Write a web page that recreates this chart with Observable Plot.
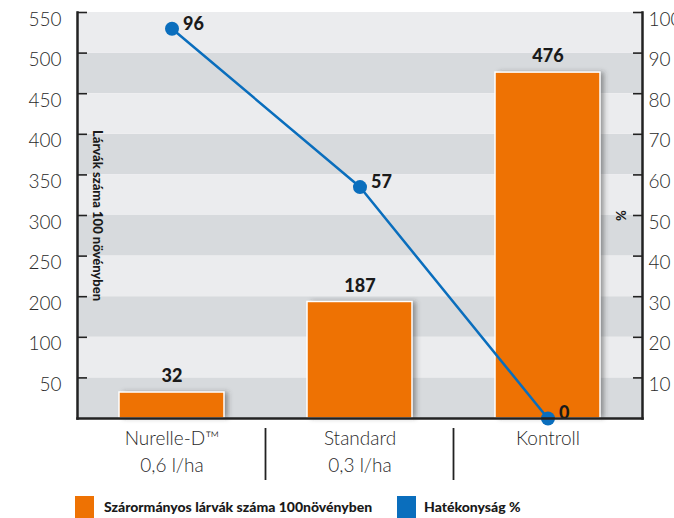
<!DOCTYPE html>
<html><head><meta charset="utf-8">
<script src="https://cdn.jsdelivr.net/npm/d3@7"></script>
<script src="https://cdn.jsdelivr.net/npm/@observablehq/plot@0.6"></script>
<style>
html,body{margin:0;padding:0;background:#fff;overflow:hidden;}
body{width:674px;height:518px;font-family:Lato,"Open Sans",sans-serif;}
#legend{position:relative;height:28px;font-family:Lato,"Open Sans",sans-serif;font-weight:900;font-size:14px;color:#1a1a1a;}
#legend .sw{position:absolute;top:6px;width:19px;height:22px;}
#legend .lt{position:absolute;top:8px;white-space:nowrap;}
</style></head><body>
<div id="chart"></div>
<div id="legend"></div>
<script>
const categories = ["Nurelle-D™\n0,6 l/ha", "Standard\n0,3 l/ha", "Kontroll"];
const larvae = [32, 187, 476];
const efficacy = [96, 57, 0];
const leftTicks = [0, 50, 100, 200, 250, 300, 350, 400, 450, 500, 550];
const rightTicks = [0, 10, 20, 30, 40, 50, 60, 70, 80, 90, 100];
const seriesNames = ["Szárormányos lárvák száma 100növényben", "Hatékonyság %"];
const seriesColors = ["#ee7203", "#0a6ebd"];
const yTitleLeft = "Lárvák száma 100 növényben";
const yTitleRight = "%";

// percent -> left-axis units (both axes share the same tick rows)
const pctToLeft = d3.scaleLinear().domain(rightTicks).range(leftTicks);
const leftToPct = new Map(leftTicks.map((d, i) => [d, rightTicks[i]]));

const rows = categories.map((c, i) => ({cat: c, larvae: larvae[i], eff: efficacy[i], effY: pctToLeft(efficacy[i])}));
const bands = leftTicks.slice(0, -1).map((d, i) => ({y1: d, y2: leftTicks[i + 1], dark: i % 2 === 0}));

const W = 674, H = 490, mt = 12, mb = 72, ml = 77, mr = 32;
const plotH = H - mt - mb;
const yRange = leftTicks.map((d, i) => H - mb - i * plotH / (leftTicks.length - 1));
const tickVals = leftTicks.slice(1);
const font = "Lato, 'Open Sans', sans-serif";

const chart = Plot.plot({
  width: W, height: H,
  marginTop: mt, marginBottom: mb, marginLeft: ml, marginRight: mr,
  style: {fontFamily: font, fontSize: "18px", color: "#2a2a2a", background: "transparent"},
  x: {domain: categories, paddingInner: 0.44, paddingOuter: 0.22, label: null},
  y: {type: "linear", domain: leftTicks, range: yRange, label: null},
  marks: [
    Plot.rect(bands.filter(d => d.dark), {y1: "y1", y2: "y2", fill: "#d7dadd"}),
    Plot.rect(bands.filter(d => !d.dark), {y1: "y1", y2: "y2", fill: "#ebecee"}),
    Plot.barY(rows, {x: "cat", y: "larvae", fill: "#333", fillOpacity: 0.45, dx: 4, className: "barshadow"}),
    Plot.barY(rows, {x: "cat", y: "larvae", fill: seriesColors[0], stroke: "#fff", strokeWidth: 1.5}),
    Plot.text(rows, {x: "cat", y: "larvae", text: d => String(d.larvae), dy: -16, fontWeight: 900, fontSize: 18, fill: "#1a1a1a"}),
    Plot.line(rows, {x: "cat", y: "effY", stroke: seriesColors[1], strokeWidth: 2.5}),
    Plot.dot(rows, {x: "cat", y: "effY", r: 7, fill: seriesColors[1]}),
    Plot.text(rows, {x: "cat", y: "effY", text: d => String(d.eff), dx: 11, dy: -5, textAnchor: "start", fontWeight: 900, fontSize: 18, fill: "#1a1a1a"}),
    Plot.axisY(tickVals, {anchor: "left", tickSize: 0, tickPadding: 16, dy: 7, fontSize: 19, fontWeight: 300, label: null}),
    Plot.axisY(tickVals, {anchor: "left", tickSize: 10, dx: 10, tickFormat: () => "", strokeWidth: 1.6, stroke: "#222", label: null}),
    Plot.axisY(tickVals, {anchor: "right", tickSize: 0, tickPadding: 6, dy: 7, fontSize: 19, fontWeight: 300, tickFormat: d => String(leftToPct.get(d)), label: null}),
    Plot.axisY(tickVals, {anchor: "right", tickSize: 10, dx: -10, tickFormat: () => "", strokeWidth: 1.6, stroke: "#222", label: null}),
    Plot.axisX({tickSize: 0, tickPadding: 8, lineHeight: 1.4, fontSize: 19, fontWeight: 300, label: null}),
    Plot.frame({anchor: "left", stroke: "#222", strokeWidth: 2.5}),
    Plot.frame({anchor: "right", stroke: "#222", strokeWidth: 2.5}),
    Plot.frame({anchor: "bottom", stroke: "#222", strokeWidth: 2.5}),
    Plot.text([yTitleLeft], {text: d => d, frameAnchor: "left", textAnchor: "middle", dx: 20, rotate: 90, fontWeight: 900, fontSize: 13, fill: "#1a1a1a"}),
    Plot.text([yTitleRight], {text: d => d, frameAnchor: "right", textAnchor: "middle", dx: -22, rotate: 90, fontWeight: 900, fontSize: 13, fill: "#1a1a1a"})
  ]
});
document.getElementById("chart").appendChild(chart);

// blur for the bar shadows
const svg = d3.select(chart);
const defs = svg.insert("defs", ":first-child");
defs.append("filter").attr("id", "shadowBlur").attr("x", "-20%").attr("width", "140%")
  .append("feGaussianBlur").attr("stdDeviation", 2.5);
svg.selectAll("g.barshadow").attr("filter", "url(#shadowBlur)");

// category separators between x labels
const sx = chart.scale("x");
const centers = categories.map(c => sx.apply(c) + sx.bandwidth / 2);
const bounds = centers.slice(1).map((c, i) => (c + centers[i]) / 2);
svg.append("g").selectAll("line").data(bounds).join("line")
  .attr("x1", d => d).attr("x2", d => d)
  .attr("y1", H - mb + 10).attr("y2", H - 10)
  .attr("stroke", "#222").attr("stroke-width", 1.8);

// legend
const lg = d3.select("#legend");
const legendX = [[75, 104], [397, 424]];
seriesNames.forEach((name, i) => {
  lg.append("span").attr("class", "sw").style("left", legendX[i][0] + "px").style("background", seriesColors[i]);
  lg.append("span").attr("class", "lt").style("left", legendX[i][1] + "px").text(name);
});
</script>
</body></html>
